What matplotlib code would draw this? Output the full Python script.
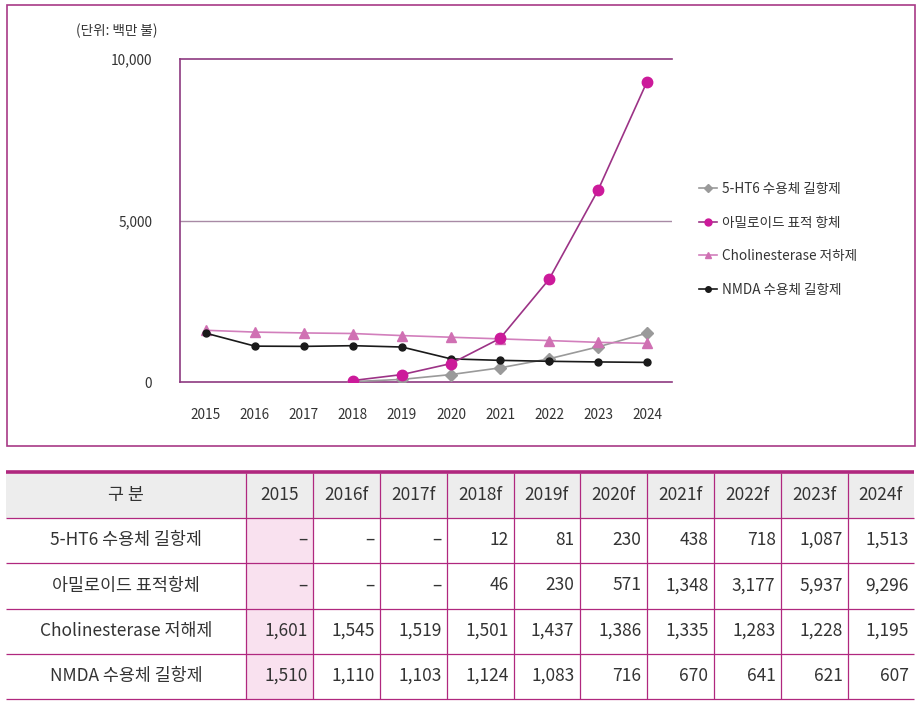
import numpy as np
import matplotlib
matplotlib.use("Agg")
import matplotlib.pyplot as plt
from matplotlib.patches import Rectangle
from matplotlib.lines import Line2D

plt.rcParams['font.family'] = ['Noto Sans CJK KR', 'DejaVu Sans']

years = ['2015', '2016', '2017', '2018', '2019', '2020', '2021', '2022', '2023', '2024']
table_years = ['2015', '2016f', '2017f', '2018f', '2019f', '2020f', '2021f', '2022f', '2023f', '2024f']
series_names = ['5-HT6 수용체 길항제', '아밀로이드 표적 항체', 'Cholinesterase 저하제', 'NMDA 수용체 길항제']
row_names = ['5-HT6 수용체 길항제', '아밀로이드 표적항체', 'Cholinesterase 저해제', 'NMDA 수용체 길항제']
ht6 = [np.nan, np.nan, np.nan, 12, 81, 230, 438, 718, 1087, 1513]
amyloid = [np.nan, np.nan, np.nan, 46, 230, 571, 1348, 3177, 5937, 9296]
choline = [1601, 1545, 1519, 1501, 1437, 1386, 1335, 1283, 1228, 1195]
nmda = [1510, 1110, 1103, 1124, 1083, 716, 670, 641, 621, 607]
yticks = [0, 5000, 10000]
ytick_labels = ['0', '5,000', '10,000']
unit_label = '(단위: 백만 불)'
header_first = '구 분'

W, H = 923, 706
fig = plt.figure(figsize=(W / 100, H / 100), dpi=100)

def fx(px):
    return px / W

def fy(py):
    return 1 - py / H

# outer box around chart
fig.patches.append(Rectangle((fx(6.5), fy(446)), fx(908), (441) / H, transform=fig.transFigure,
                             fill=False, edgecolor='#a83a86', linewidth=1.2))

ax = fig.add_axes([fx(180), fy(382), fx(672 - 180), (382 - 59) / H])
x = np.arange(len(years))
ax.plot(x, ht6, color='#9a9a9a', lw=1.2, marker='D', ms=6.5, mfc='#9a9a9a', mec='#9a9a9a', zorder=3)
ax.plot(x, amyloid, color='#9c3386', lw=1.2, marker='o', ms=7.5, mfc='#cc1a9a', mec='#cc1a9a', zorder=4)
ax.plot(x, choline, color='#d27fbc', lw=1.2, marker='^', ms=7.5, mfc='#d070b3', mec='#d070b3', zorder=3)
ax.plot(x, nmda, color='#1a1a1a', lw=1.2, marker='o', ms=5, mfc='#1a1a1a', mec='#1a1a1a', zorder=3)

ax.set_xlim(-0.53, 9.51)
ax.set_ylim(0, 10000)
ax.set_xticks(x)
ax.set_xticklabels(years, fontsize=9.8, color='#333333')
ax.set_yticks(yticks)
ax.set_yticklabels(ytick_labels, fontsize=9.8, color='#333333')
ax.tick_params(axis='both', length=0)
ax.tick_params(axis='x', pad=19)
ax.tick_params(axis='y', pad=20)
for s in ['right', 'top']:
    ax.spines[s].set_visible(False)
ax.spines['left'].set_color('#8e3a80')
ax.spines['bottom'].set_color('#8e3a80')
ax.spines['left'].set_linewidth(1.2)
ax.spines['bottom'].set_linewidth(1.2)
ax.axhline(10000, color='#8e3a80', lw=1.2, clip_on=False)
ax.axhline(5000, color='#a88aa5', lw=1.0)

fig.text(fx(158), fy(31), unit_label, fontsize=9.8, color='#333333', ha='right', va='center')

handles = [
    Line2D([], [], color='#9a9a9a', lw=1.2, marker='D', ms=4, mfc='#9a9a9a', mec='#9a9a9a'),
    Line2D([], [], color='#9c3386', lw=1.2, marker='o', ms=5, mfc='#cc1a9a', mec='#cc1a9a'),
    Line2D([], [], color='#d27fbc', lw=1.2, marker='^', ms=5, mfc='#d070b3', mec='#d070b3'),
    Line2D([], [], color='#1a1a1a', lw=1.2, marker='o', ms=4, mfc='#1a1a1a', mec='#1a1a1a'),
]
fig.legend(handles, series_names, loc='upper left', bbox_to_anchor=(fx(687), fy(170)),
           frameon=False, fontsize=9.8, handlelength=1.3, handletextpad=0.4, labelspacing=1.43,
           labelcolor='#333333')

# ---- table ----
col_edges = [6, 246, 312.5, 379.5, 446.5, 513.5, 579.5, 646.5, 713.5, 780.5, 847.5, 914]
row_edges = [473, 517.5, 562.5, 608.5, 653.5, 698.5]
tax = fig.add_axes([0, 0, 1, 1])
tax.set_xlim(0, W)
tax.set_ylim(H, 0)
tax.axis('off')

line_c = '#b0287f'
# header background
tax.add_patch(Rectangle((col_edges[0], row_edges[0]), col_edges[-1] - col_edges[0], row_edges[1] - row_edges[0],
                        facecolor='#ededed', edgecolor='none', zorder=0))
# 2015 column pink background
tax.add_patch(Rectangle((col_edges[1], row_edges[1]), col_edges[2] - col_edges[1], row_edges[-1] - row_edges[1],
                        facecolor='#f9e1ef', edgecolor='none', zorder=0))
# top thick line
tax.plot([col_edges[0], col_edges[-1]], [471.5, 471.5], color=line_c, lw=2.6, solid_capstyle='butt')
for ry in row_edges[1:]:
    tax.plot([col_edges[0], col_edges[-1]], [ry, ry], color=line_c, lw=0.9, solid_capstyle='butt')
for cx in col_edges[1:-1]:
    tax.plot([cx, cx], [row_edges[0], row_edges[-1]], color=line_c, lw=0.9, solid_capstyle='butt')

fs = 12.5
tcol = '#333333'
cy = (row_edges[0] + row_edges[1]) / 2
tax.text((col_edges[0] + col_edges[1]) / 2, cy, header_first, ha='center', va='center', fontsize=fs, color=tcol)
for j, yl in enumerate(table_years):
    tax.text((col_edges[j + 1] + col_edges[j + 2]) / 2, cy, yl, ha='center', va='center', fontsize=fs, color=tcol)

def fmt(v):
    if v is None or (isinstance(v, float) and np.isnan(v)):
        return '–'
    return f'{int(v):,}'

all_series = [ht6, amyloid, choline, nmda]
for i, (name, vals) in enumerate(zip(row_names, all_series)):
    cy = (row_edges[i + 1] + row_edges[i + 2]) / 2
    tax.text((col_edges[0] + col_edges[1]) / 2, cy, name, ha='center', va='center', fontsize=fs, color=tcol)
    for j, v in enumerate(vals):
        tax.text(col_edges[j + 2] - 5, cy, fmt(v), ha='right', va='center', fontsize=fs, color=tcol)

fig.savefig('out.png', dpi=100)
